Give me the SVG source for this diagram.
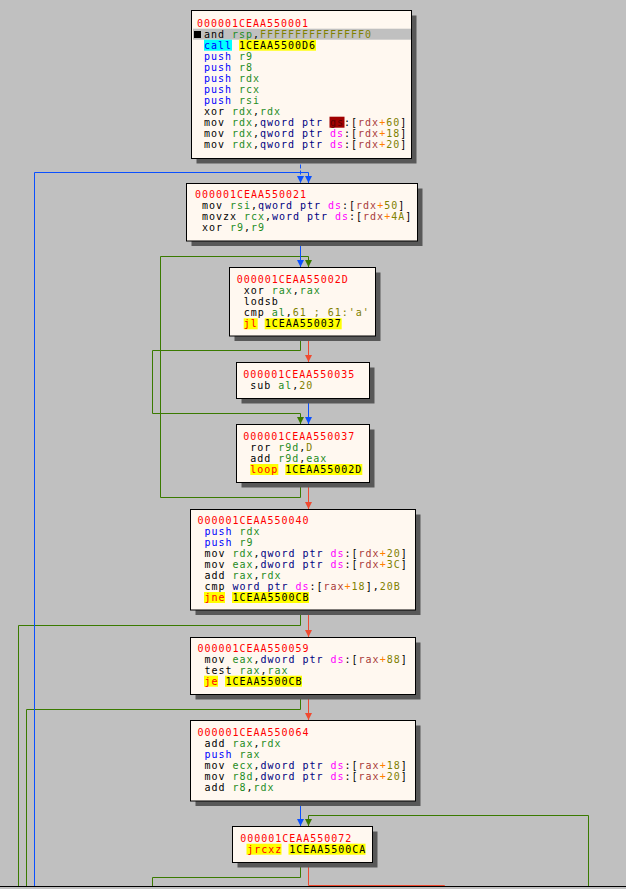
<svg xmlns="http://www.w3.org/2000/svg" width="626" height="889" viewBox="0 0 626 889" xml:space="preserve">
<style>
text{font-family:"DejaVu Sans Mono","Liberation Mono",monospace;font-size:10px;letter-spacing:0.98px;fill:#000}
.sh{fill:#585858}
.bx{fill:#fff8f0;stroke:#000;stroke-width:1}
.ad{fill:#ff0000}
.bl{fill:#0000ff}
.g{fill:#1e8c1e}
.ol{fill:#808000}
.nv{fill:#000080}
.mg{fill:#ff00ff}
.br{fill:#a83a3a}
.or{fill:#ff8000}
.jr{fill:#ff0000}
.gs{fill:#5a0000}
.hy{fill:#ffff00}
.hc{fill:#00ffff}
.hg{fill:#c0c0c0}
.hr{fill:#a00000}
.e{fill:none;stroke-width:1}
.eb{stroke:#0a50ff}
.eg{stroke:#3a7a00}
.er{stroke:#f04a30}
</style>
<defs>
<marker id="ab" markerWidth="8" markerHeight="8" refX="7" refY="4" orient="auto" markerUnits="userSpaceOnUse"><path d="M0,0.5 L7,4 L0,7.5 z" fill="#0a50ff"/></marker>
<marker id="ag" markerWidth="8" markerHeight="8" refX="7" refY="4" orient="auto" markerUnits="userSpaceOnUse"><path d="M0,0.5 L7,4 L0,7.5 z" fill="#3a7a00"/></marker>
<marker id="ar" markerWidth="8" markerHeight="8" refX="7" refY="4" orient="auto" markerUnits="userSpaceOnUse"><path d="M0,0.5 L7,4 L0,7.5 z" fill="#f04a30"/></marker>
</defs>
<rect x="0" y="0" width="626" height="889" fill="#c0c0c0"/>
<line x1="0" y1="886.5" x2="626" y2="886.5" stroke="#000" stroke-width="1"/>
<g id="connectors">
<path class="e eg" d="M300.5,482.5 V497.5 H160.5 V256.5 H308.5 V267" marker-end="url(#ag)"/>
<path class="e eg" d="M300.5,336.5 V350.5 H152.5 V413.5 H300.5 V424" marker-end="url(#ag)"/>
<path class="e eg" d="M300.5,610.5 V625.5 H18.5 V886"/>
<path class="e eg" d="M300.5,694.5 V709.5 H26.5 V886"/>
<path class="e eg" d="M588.5,886 V815.5 H308.5 V826" marker-end="url(#ag)"/>
<path class="e eg" d="M300.5,862.5 V877.5 H152.5 V886"/>
<path class="e er" d="M308.5,336.5 V362" marker-end="url(#ar)"/>
<path class="e er" d="M308.5,482.5 V509" marker-end="url(#ar)"/>
<path class="e er" d="M308.5,610.5 V637" marker-end="url(#ar)"/>
<path class="e er" d="M308.5,694.5 V720" marker-end="url(#ar)"/>
<path class="e er" d="M308.5,862.5 V885.5 H444.5 V886"/>
<path class="e eb" d="M300.5,158.5 V183" stroke-dasharray="4 2" marker-end="url(#ab)"/>
<path class="e eb" d="M34.5,886 V172.5 H308.5 V183" marker-end="url(#ab)"/>
<path class="e eb" d="M300.5,241 V267" marker-end="url(#ab)"/>
<path class="e eb" d="M308.5,398.5 V424" marker-end="url(#ab)"/>
<path class="e eb" d="M300.5,801 V826" marker-end="url(#ab)"/>
</g>
<g id="n550001">
<rect class="sh" x="196.5" y="15.5" width="220" height="148"/>
<rect class="bx" x="191.5" y="10.5" width="220" height="148"/>
<rect class="hg" x="193" y="28.7" width="218" height="11"/>
<rect x="194" y="31" width="7" height="7" fill="#000"/>
<rect class="hc" x="204" y="39.7" width="28" height="11"/>
<rect class="hy" x="239" y="39.7" width="77" height="11"/>
<rect class="hr" x="329.5" y="116.7" width="15" height="11"/>
<text x="197" y="26.7" class="ad">000001CEAA550001</text>
<text x="204" y="37.7">and <tspan class="g">rsp</tspan>,<tspan class="ol">FFFFFFFFFFFFFFF0</tspan></text>
<text x="204" y="48.7"><tspan class="bl">call</tspan> 1CEAA5500D6</text>
<text x="204" y="59.7"><tspan class="bl">push</tspan> <tspan class="g">r9</tspan></text>
<text x="204" y="70.7"><tspan class="bl">push</tspan> <tspan class="g">r8</tspan></text>
<text x="204" y="81.7"><tspan class="bl">push</tspan> <tspan class="g">rdx</tspan></text>
<text x="204" y="92.7"><tspan class="bl">push</tspan> <tspan class="g">rcx</tspan></text>
<text x="204" y="103.7"><tspan class="bl">push</tspan> <tspan class="g">rsi</tspan></text>
<text x="204" y="114.7">xor <tspan class="g">rdx</tspan>,<tspan class="g">rdx</tspan></text>
<text x="204" y="125.7">mov <tspan class="g">rdx</tspan>,<tspan class="nv">qword ptr</tspan> <tspan class="gs">gs</tspan>:[<tspan class="br">rdx</tspan><tspan class="or">+</tspan><tspan class="ol">60</tspan>]</text>
<text x="204" y="136.7">mov <tspan class="g">rdx</tspan>,<tspan class="nv">qword ptr</tspan> <tspan class="mg">ds</tspan>:[<tspan class="br">rdx</tspan><tspan class="or">+</tspan><tspan class="ol">18</tspan>]</text>
<text x="204" y="147.7">mov <tspan class="g">rdx</tspan>,<tspan class="nv">qword ptr</tspan> <tspan class="mg">ds</tspan>:[<tspan class="br">rdx</tspan><tspan class="or">+</tspan><tspan class="ol">20</tspan>]</text>
</g>
<g id="n550021">
<rect class="sh" x="191.5" y="188.5" width="231" height="57.5"/>
<rect class="bx" x="186.5" y="183.5" width="231" height="57.5"/>
<text x="195" y="198.3" class="ad">000001CEAA550021</text>
<text x="202" y="209.3">mov <tspan class="g">rsi</tspan>,<tspan class="nv">qword ptr</tspan> <tspan class="mg">ds</tspan>:[<tspan class="br">rdx</tspan><tspan class="or">+</tspan><tspan class="ol">50</tspan>]</text>
<text x="202" y="220.3">movzx <tspan class="g">rcx</tspan>,<tspan class="nv">word ptr</tspan> <tspan class="mg">ds</tspan>:[<tspan class="br">rdx</tspan><tspan class="or">+</tspan><tspan class="ol">4A</tspan>]</text>
<text x="202" y="231.3">xor <tspan class="g">r9</tspan>,<tspan class="g">r9</tspan></text>
</g>
<g id="n55002D">
<rect class="sh" x="234.5" y="272.5" width="146" height="68.5"/>
<rect class="bx" x="229.5" y="267.5" width="146" height="68.5"/>
<rect class="hy" x="243.7" y="318.3" width="14" height="11"/>
<rect class="hy" x="264.7" y="318.3" width="77" height="11"/>
<text x="236.7" y="283.3" class="ad">000001CEAA55002D</text>
<text x="243.7" y="294.3">xor <tspan class="g">rax</tspan>,<tspan class="g">rax</tspan></text>
<text x="243.7" y="305.3">lodsb</text>
<text x="243.7" y="316.3">cmp <tspan class="g">al</tspan>,<tspan class="ol">61 ; 61:'a'</tspan></text>
<text x="243.7" y="327.3"><tspan class="jr">jl</tspan> 1CEAA550037</text>
</g>
<g id="n550035">
<rect class="sh" x="241.5" y="367.5" width="133" height="36"/>
<rect class="bx" x="236.5" y="362.5" width="133" height="36"/>
<text x="243.3" y="377.7" class="ad">000001CEAA550035</text>
<text x="250.3" y="388.7">sub <tspan class="g">al</tspan>,<tspan class="ol">20</tspan></text>
</g>
<g id="n550037">
<rect class="sh" x="241.5" y="429.5" width="133" height="58"/>
<rect class="bx" x="236.5" y="424.5" width="133" height="58"/>
<rect class="hy" x="250.3" y="464" width="28" height="11"/>
<rect class="hy" x="285.3" y="464" width="77" height="11"/>
<text x="243.3" y="440" class="ad">000001CEAA550037</text>
<text x="250.3" y="451">ror <tspan class="g">r9d</tspan>,<tspan class="ol">D</tspan></text>
<text x="250.3" y="462">add <tspan class="g">r9d</tspan>,<tspan class="g">eax</tspan></text>
<text x="250.3" y="473"><tspan class="jr">loop</tspan> 1CEAA55002D</text>
</g>
<g id="n550040">
<rect class="sh" x="195.5" y="514.5" width="225" height="100.5"/>
<rect class="bx" x="190.5" y="509.5" width="225" height="100.5"/>
<rect class="hy" x="204" y="592" width="21" height="11"/>
<rect class="hy" x="232" y="592" width="77" height="11"/>
<text x="197.5" y="524" class="ad">000001CEAA550040</text>
<text x="204.5" y="535"><tspan class="bl">push</tspan> <tspan class="g">rdx</tspan></text>
<text x="204.5" y="546"><tspan class="bl">push</tspan> <tspan class="g">r9</tspan></text>
<text x="204.5" y="557">mov <tspan class="g">rdx</tspan>,<tspan class="nv">qword ptr</tspan> <tspan class="mg">ds</tspan>:[<tspan class="br">rdx</tspan><tspan class="or">+</tspan><tspan class="ol">20</tspan>]</text>
<text x="204.5" y="568">mov <tspan class="g">eax</tspan>,<tspan class="nv">dword ptr</tspan> <tspan class="mg">ds</tspan>:[<tspan class="br">rdx</tspan><tspan class="or">+</tspan><tspan class="ol">3C</tspan>]</text>
<text x="204.5" y="579">add <tspan class="g">rax</tspan>,<tspan class="g">rdx</tspan></text>
<text x="204.5" y="590">cmp <tspan class="nv">word ptr</tspan> <tspan class="mg">ds</tspan>:[<tspan class="br">rax</tspan><tspan class="or">+</tspan><tspan class="ol">18</tspan>],<tspan class="ol">20B</tspan></text>
<text x="204.5" y="601"><tspan class="jr">jne</tspan> 1CEAA5500CB</text>
</g>
<g id="n550059">
<rect class="sh" x="195.5" y="642.5" width="225" height="57"/>
<rect class="bx" x="190.5" y="637.5" width="225" height="57"/>
<rect class="hy" x="204" y="675.7" width="14" height="11"/>
<rect class="hy" x="225" y="675.7" width="77" height="11"/>
<text x="197.5" y="651.7" class="ad">000001CEAA550059</text>
<text x="204.5" y="662.7">mov <tspan class="g">eax</tspan>,<tspan class="nv">dword ptr</tspan> <tspan class="mg">ds</tspan>:[<tspan class="br">rax</tspan><tspan class="or">+</tspan><tspan class="ol">88</tspan>]</text>
<text x="204.5" y="673.7">test <tspan class="g">rax</tspan>,<tspan class="g">rax</tspan></text>
<text x="204.5" y="684.7"><tspan class="jr">je</tspan> 1CEAA5500CB</text>
</g>
<g id="n550064">
<rect class="sh" x="195.5" y="725.5" width="225" height="80.5"/>
<rect class="bx" x="190.5" y="720.5" width="225" height="80.5"/>
<text x="197.5" y="735.7" class="ad">000001CEAA550064</text>
<text x="204.5" y="746.7">add <tspan class="g">rax</tspan>,<tspan class="g">rdx</tspan></text>
<text x="204.5" y="757.7"><tspan class="bl">push</tspan> <tspan class="g">rax</tspan></text>
<text x="204.5" y="768.7">mov <tspan class="g">ecx</tspan>,<tspan class="nv">dword ptr</tspan> <tspan class="mg">ds</tspan>:[<tspan class="br">rax</tspan><tspan class="or">+</tspan><tspan class="ol">18</tspan>]</text>
<text x="204.5" y="779.7">mov <tspan class="g">r8d</tspan>,<tspan class="nv">dword ptr</tspan> <tspan class="mg">ds</tspan>:[<tspan class="br">rax</tspan><tspan class="or">+</tspan><tspan class="ol">20</tspan>]</text>
<text x="204.5" y="790.7">add <tspan class="g">r8</tspan>,<tspan class="g">rdx</tspan></text>
</g>
<g id="n550072">
<rect class="sh" x="237.5" y="831.5" width="140" height="36"/>
<rect class="bx" x="232.5" y="826.5" width="140" height="36"/>
<rect class="hy" x="246.5" y="843.7" width="35" height="11"/>
<rect class="hy" x="288.5" y="843.7" width="77" height="11"/>
<text x="240.3" y="841.7" class="ad">000001CEAA550072</text>
<text x="247.3" y="852.7"><tspan class="jr">jrcxz</tspan> 1CEAA5500CA</text>
</g>
</svg>
